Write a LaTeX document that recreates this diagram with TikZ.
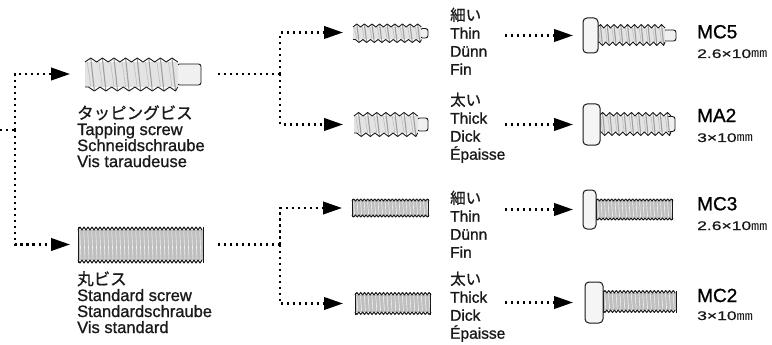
\documentclass[tikz,border=0pt]{standalone}
\usepackage{fontspec}
\setmainfont{Liberation Sans}[FakeBold=1]
\newfontfamily\jpfont{Noto Sans CJK JP}[FakeBold=0.8]
\newfontfamily\dimfont{Liberation Sans}[FakeStretch=1.4,FakeBold=0.8]
\newfontfamily\dimjp{Noto Sans CJK JP}[FakeStretch=1.3]
\usetikzlibrary{arrows.meta}

\tikzset{
  dotline/.style={line width=2.4pt, dash pattern=on 2.4pt off 3.6pt, black},
  dotarrow/.style={dotline, -{Triangle[length=19pt,width=12.5pt]}},
  part/.style={rectangle, inner sep=0pt, outer sep=0pt},
  biglbl/.style={inner sep=0pt, align=left, anchor=north west,
    font=\fontsize{16.5}{16}\selectfont, text=black!90},
  smalllbl/.style={inner sep=0pt, align=left, anchor=north west,
    font=\fontsize{15.5}{18}\selectfont, text=black!90},
  codelbl/.style={inner sep=0pt, anchor=base west,
    font=\fontsize{19}{19}\selectfont, text=black},
  dimlbl/.style={inner sep=0pt, anchor=base west,
    font=\dimfont\fontsize{12.5}{12.5}\selectfont, text=black!90},
  tapfill/.style={fill=gray!22},
  crest/.style={draw=gray!75, line width=1.1pt},
  crestlight/.style={draw=gray!50, line width=0.6pt},
  threadedge/.style={draw=black!90, line width=0.9pt, line join=round},
  stdfill/.style={fill=gray!50},
  stdcrest/.style={draw=gray!12, line width=0.6pt},
  stdedge/.style={draw=black!90, line width=1pt, line join=round},
  shankstyle/.style={draw=black!90, fill=gray!12, line width=0.9pt, rounded corners=2.5pt},
  headstyle/.style={draw=black!90, fill=gray!8, line width=1pt, rounded corners=4pt},
}

% self-tapping thread: x-left, x-right, body top, body bottom, pitch, tooth depth
\newcommand\tapthread[6]{%
  \pgfmathtruncatemacro\tpn{round((#2-#1)/#5)-1}%
  \fill[tapfill] (#1,#3) rectangle (#2,#4);
  \foreach \k in {0,...,\tpn}{
    \draw[crestlight] ({#1+(\k+0.2)*#5},{#3}) -- ({#1+(\k+0.5)*#5},{#4});
    \draw[crest] ({#1+(\k+0.5)*#5},{#3-#6+0.5}) -- ({#1+(\k+0.8)*#5},{#4+#6-0.5});
  }
  \draw[threadedge] (#1,#3) foreach \k in {0,...,\tpn} {
    -- ({#1+(\k+0.5)*#5},{#3-#6}) -- ({#1+(\k+1)*#5},{#3}) };
  \draw[threadedge] (#1,#4) -- ({#1+0.3*#5},{#4}) foreach \k in {0,...,\tpn} {
    -- ({#1+(\k+0.8)*#5},{#4+#6}) -- ({#1+min(\k+1.3,\tpn+1)*#5},{#4}) };
}

% machine thread: x-left, x-right, body top, body bottom, pitch, tooth depth
\newcommand\stdthread[6]{%
  \pgfmathtruncatemacro\tpn{round((#2-#1)/#5)-1}%
  \fill[stdfill] (#1,#3) rectangle (#2,#4);
  \foreach \k in {0,...,\tpn}{
    \draw[stdcrest] ({#1+(\k+0.45)*#5},{#3+0.8}) -- ({#1+(\k+0.75)*#5},{#4-0.8});
  }
  \draw[stdedge] (#1,#3) foreach \k in {0,...,\tpn} {
    -- ({#1+(\k+0.5)*#5},{#3-#6}) -- ({#1+(\k+1)*#5},{#3}) };
  \draw[stdedge] (#1,#4) foreach \k in {0,...,\tpn} {
    -- ({#1+(\k+0.5)*#5},{#4+#6}) -- ({#1+(\k+1)*#5},{#4}) };
  \draw[stdedge] (#1,{#3-#6}) -- (#1,{#4+#6});
  \draw[stdedge] (#2,{#3-#6}) -- (#2,{#4+#6});
}

\begin{document}
\begin{tikzpicture}[x=1pt,y=-1pt]
\useasboundingbox (0,0) rectangle (772,345);
\fill[white] (0,0) rectangle (772,345);

% ---- screw outlines used as connector targets
\node[part, minimum width=116pt, minimum height=35pt] (tap)      at (143,74) {};
\node[part, minimum width=125pt, minimum height=37pt] (std)      at (140.5,244.5) {};
\node[part, minimum width=75pt,  minimum height=19pt] (tapthin)  at (390.5,32.5) {};
\node[part, minimum width=74pt,  minimum height=25pt] (tapthick) at (391,124.5) {};
\node[part, minimum width=76pt,  minimum height=18pt] (stdthin)  at (390,208) {};
\node[part, minimum width=75pt,  minimum height=23pt] (stdthick) at (392.5,303.5) {};
\node[part, minimum width=93pt,  minimum height=35pt] (mc5)      at (629.5,35.5) {};
\node[part, minimum width=92pt,  minimum height=41pt] (ma2)      at (629,124.5) {};
\node[part, minimum width=89pt,  minimum height=39pt] (mc3)      at (627.5,209.5) {};
\node[part, minimum width=91pt,  minimum height=41pt] (mc2)      at (630.5,302.5) {};

% ---- tapping screw (large)
\draw[shankstyle] (177,64) rectangle (201,85);
\tapthread{85}{178}{62}{87}{11.6}{4}

% ---- standard screw (large)
\stdthread{78}{203}{230}{260}{4}{3}

% ---- thin / thick tapping screws
\draw[shankstyle] (420,28.5) rectangle (428,38);
\tapthread{353}{421}{27}{39.5}{7.6}{3}
\draw[shankstyle] (417,118) rectangle (428,131);
\tapthread{354}{418}{116}{133}{9.1}{3.5}

% ---- thin / thick machine screws
\stdthread{352}{428}{201}{215}{3.5}{2}
\stdthread{355}{430}{295}{312}{3.8}{2.5}

% ---- pan head screws
\draw[shankstyle] (663,30) rectangle (676,41);
\tapthread{597}{665}{28}{42}{6.8}{3.5}
\draw[headstyle] (583,18) rectangle (598,53);

\draw[shankstyle] (666,116.5) rectangle (675,131.5);
\tapthread{599}{668}{116}{132}{7.2}{3.5}
\draw[headstyle] (583,104) rectangle (600,145);

\stdthread{596}{672}{201}{218}{3.5}{2}
\draw[headstyle] (583,190) rectangle (596,229);

\stdthread{603}{676}{293}{310}{3.8}{2.5}
\draw[headstyle] (585,282) rectangle (603,323);

% ---- labels
\node[biglbl] (taptext) at (77,105)
  {{\jpfont タッピングビス}\\Tapping screw\\Schneidschraube\\Vis taraudeuse};
\node[biglbl] (stdtext) at (77,271)
  {{\jpfont 丸ビス}\\Standard screw\\Standardschraube\\Vis standard};

\node[smalllbl] (t1) at (450,7.5)   {{\jpfont 細い}\\Thin\\Dünn\\Fin};
\node[smalllbl] (t2) at (450,92.5)  {{\jpfont 太い}\\Thick\\Dick\\Épaisse};
\node[smalllbl] (t3) at (450,190.5) {{\jpfont 細い}\\Thin\\Dünn\\Fin};
\node[smalllbl] (t4) at (450,271.5) {{\jpfont 太い}\\Thick\\Dick\\Épaisse};

\node[codelbl] (c1) at (697,38.3)  {MC5};
\node[dimlbl]  (d1) at (697,58)    {2.6×10{\dimjp ㎜}};
\node[codelbl] (c2) at (697,122)   {MA2};
\node[dimlbl]  (d2) at (697,142)   {3×10{\dimjp ㎜}};
\node[codelbl] (c3) at (697,210.3) {MC3};
\node[dimlbl]  (d3) at (697,230)   {2.6×10{\dimjp ㎜}};
\node[codelbl] (c4) at (697,302)   {MC2};
\node[dimlbl]  (d4) at (697,320)   {3×10{\dimjp ㎜}};

% ---- connectors
\coordinate (in)    at (0,130);
\coordinate (fork1) at (15,130);
\coordinate (fork2) at (280,74);
\coordinate (fork3) at (280,244.5);

\draw[dotline] (in) -- (fork1);
\draw[dotarrow, shorten >=15pt] (fork1) |- (tap.west);
\draw[dotarrow, shorten >=8pt]  (fork1) |- (std.west);

\draw[dotline, shorten <=17pt] (tap.east) -- (fork2);
\draw[dotarrow, shorten >=10pt] (fork2) |- (tapthin.west);
\draw[dotarrow, shorten >=11pt] (fork2) |- (tapthick.west);

\draw[dotline, shorten <=15pt] (std.east) -- (fork3);
\draw[dotarrow, shorten >=10pt] (fork3) |- (stdthin.west);
\draw[dotarrow, shorten >=12pt] (fork3) |- (stdthick.west);

\coordinate (f1) at ([xshift=-78pt]mc5.west);
\coordinate (f2) at ([xshift=-78pt]ma2.west);
\coordinate (f3) at ([xshift=-78pt]mc3.west);
\coordinate (f4) at ([xshift=-80pt]mc2.west);
\draw[dotarrow, shorten >=10pt] (f1) -- (mc5.west);
\draw[dotarrow, shorten >=10pt] (f2) -- (ma2.west);
\draw[dotarrow, shorten >=10pt] (f3) -- (mc3.west);
\draw[dotarrow, shorten >=12pt] (f4) -- (mc2.west);
\end{tikzpicture}
\end{document}
